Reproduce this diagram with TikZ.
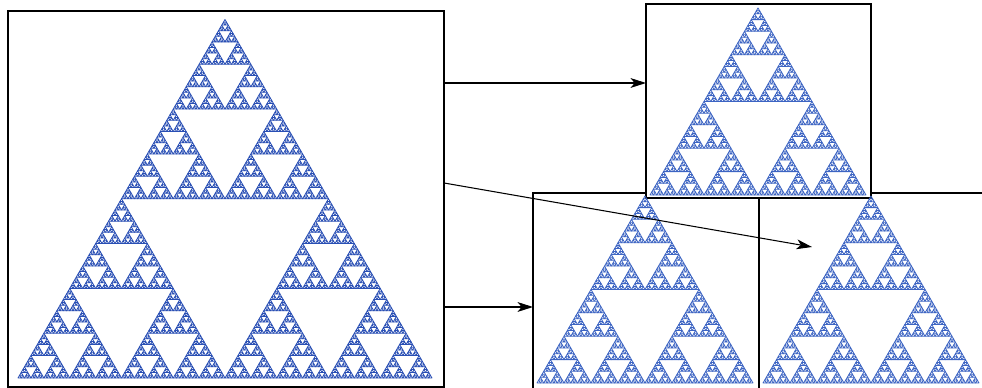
\documentclass[tikz,border=0pt]{standalone}
\usetikzlibrary{arrows.meta}
\definecolor{gasket}{RGB}{40,78,180}
\definecolor{gasketlight}{RGB}{60,100,195}

% one gasket of side 1, at the origin, #1 levels deep
\newcommand\gasket[1]{%
  \ifnum#1>0
    \begin{scope}[scale=.5]
      \expandafter\gasket\expandafter{\the\numexpr#1-1\relax}
    \end{scope}
    \begin{scope}[shift={(.5,0)},scale=.5]
      \expandafter\gasket\expandafter{\the\numexpr#1-1\relax}
    \end{scope}
    \begin{scope}[shift={(60:.5)},scale=.5]
      \expandafter\gasket\expandafter{\the\numexpr#1-1\relax}
    \end{scope}
  \else
    \draw (0,0) -- (1,0) -- (60:1) -- cycle;
  \fi}

\begin{document}
\begin{tikzpicture}[x=0.025cm,y=0.025cm,
  box/.style={draw,line width=1.5pt,fill=white,inner sep=0pt,outer sep=0pt},
  link/.style={line width=.75pt,-{Stealth[length=11pt,width=7pt,inset=3pt]}},
  tri/.style={line width=.55pt,line join=round}]
\useasboundingbox (0,0) rectangle (982,388);
\clip (0,0) rectangle (982,388);

% the boxes
\node[box,minimum width=10.9cm,minimum height=9.4cm] (orig) at (226,189) {};
\node[box,minimum width=5.65cm,minimum height=4.975cm] (lowl) at (646,95.5) {};
\node[box,minimum width=6.025cm,minimum height=4.975cm] (lowr) at (879.5,95.5) {};
\node[box,minimum width=5.625cm,minimum height=4.85cm] (up) at (758.5,287) {};

% the gaskets
\begin{scope}[shift={(18,10)},scale=414,tri,draw=gasket]
  \gasket{7}
\end{scope}
\begin{scope}[shift={(650,193)},scale=216,tri,draw=gasketlight]
  \gasket{6}
\end{scope}
\begin{scope}[shift={(537,5)},scale=216,tri,draw=gasketlight]
  \gasket{6}
\end{scope}
\begin{scope}[shift={(763,5)},scale=216,tri,draw=gasketlight]
  \gasket{6}
\end{scope}

% the maps
\coordinate (aim) at (812,141);
\draw[link] (orig.east |- 0,305) -- (up.west |- 0,305);
\draw[link] (orig.east |- 0,205) -- (aim);
\draw[link] (orig.east |- 0,81) -- (lowl.west |- 0,81);
\end{tikzpicture}
\end{document}
